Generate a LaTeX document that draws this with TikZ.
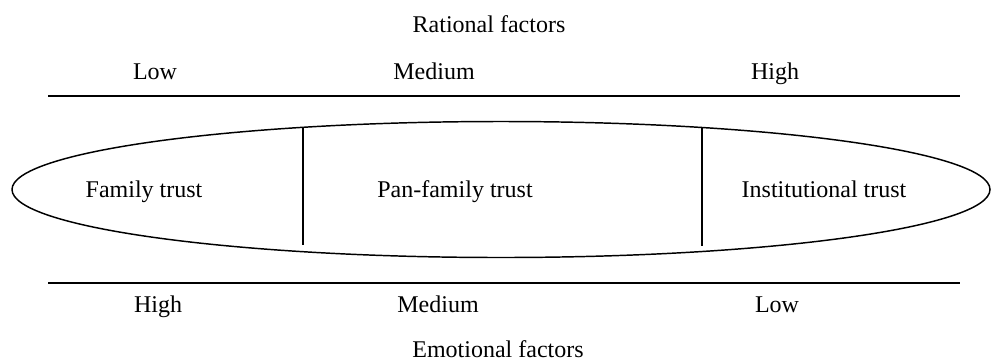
\documentclass[tikz,border=0pt]{standalone}
\usepackage{fontspec}
\setmainfont{Liberation Serif}
\usetikzlibrary{positioning}

\begin{document}
\begin{tikzpicture}[x=0.75pt, y=-0.75pt, every node/.style={font=\fontsize{18}{20}\selectfont, inner sep=0pt, anchor=base}, rule/.style={line width=1.5pt}]
	\useasboundingbox (0,0) rectangle (991,362);
	% scale headings
	\node (rat) at (489,32) {Rational factors};
	\node (emo) at (498,357) {Emotional factors};
	\node (rlow) at (155,79) {Low};
	\node (rmed) at (434,79) {Medium};
	\node (rhigh) at (775,79) {High};
	\node (ehigh) at (158,312) {High};
	\node (emed) at (438,312) {Medium};
	\node (elow) at (777,312) {Low};
	% rules
	\coordinate (t1) at (48,96);
	\coordinate (t2) at (960,96);
	\coordinate (b1) at (48,283);
	\coordinate (b2) at (960,283);
	\draw[rule] (t1) -- (t2);
	\draw[rule] (b1) -- (b2);
	% trust ellipse
	\draw[line width=1.1pt] (501,189.5) ellipse [x radius=489, y radius=68];
	\node (fam) at (144,197) {Family trust};
	\node (pan) at (455,197) {Pan-family trust};
	\node (inst) at (824,197) {Institutional trust};
	\coordinate (d1a) at (303,127);
	\coordinate (d1b) at (303,245);
	\coordinate (d2a) at (702,128);
	\coordinate (d2b) at (702,246);
	\foreach \i/\j in {d1a/d1b,d2a/d2b} {\draw[line width=1.1pt] (\i) -- (\j);}
\end{tikzpicture}
\end{document}
